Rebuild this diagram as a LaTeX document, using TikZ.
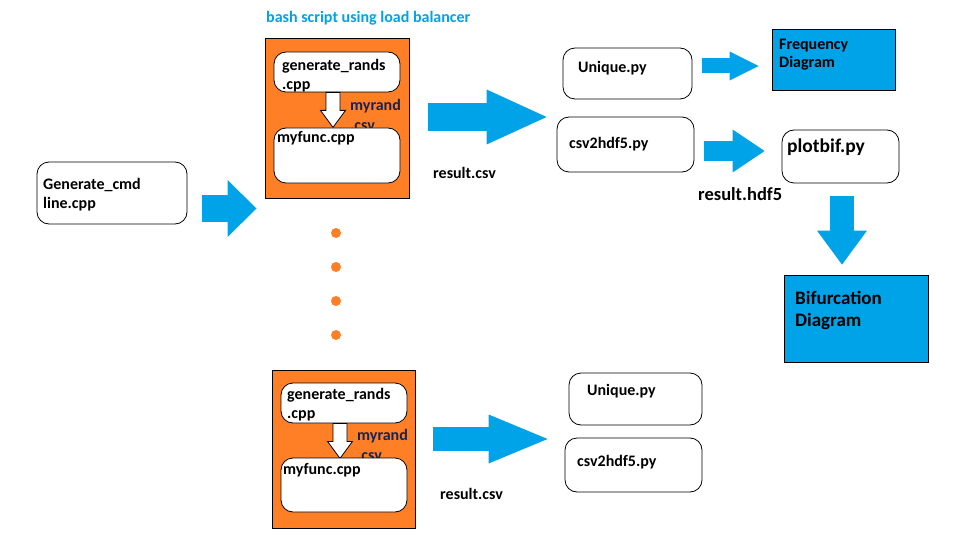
\documentclass[tikz,border=0pt]{standalone}
\usepackage{fontspec}
\setmainfont{Carlito}
\usetikzlibrary{arrows.meta}
\definecolor{paintorange}{RGB}{255,127,39}
\definecolor{paintblue}{RGB}{0,162,232}
\definecolor{navytext}{RGB}{25,35,80}

\begin{document}
\begin{tikzpicture}[x=1pt, y=-1pt,
    txt/.style={inner sep=0pt, align=left, anchor=west, font=\bfseries\fontsize{16}{19}\selectfont},
    bigtxt/.style={txt, font=\bfseries\fontsize{19}{22}\selectfont},
    randtxt/.style={txt, text=navytext, font=\bfseries\fontsize{16}{20}\selectfont},
    rbox/.style={rectangle, draw, fill=white, rounded corners=12pt, line width=0.8pt},
    batch/.style={rectangle, draw, fill=paintorange, line width=1pt},
    result/.style={rectangle, draw, fill=paintblue, line width=0.8pt},
    blk/.style n args={3}{draw=paintblue, line width=#1, -{Triangle[length=#2, width=#3, line width=0pt]}},
    whitearr/.pic={\draw[fill=white, line width=0.8pt] (-11,0) -- (3,0) -- (3,18) -- (8.5,18) -- (-4,35) -- (-16.5,18) -- (-11,18) -- cycle;}
]
    \useasboundingbox (0,0) rectangle (960,540);

    \node[txt, text=paintblue] (title) at (266,18) {bash script using load balancer};

    % upper batch
    \node[batch, minimum width=144pt, minimum height=159pt] (batch1) at (337,118.5) {};
    \node[rbox, minimum width=126pt, minimum height=40pt] (gen1) at (337,72) {};
    \node[txt] (gen1-t) at (282,76) {generate\_rands\\.cpp};
    \node[randtxt] (rand1) at (350,115) {myrand\\.csv};
    \pic at (gen1.south) {whitearr};
    \node[rbox, minimum width=126pt, minimum height=55pt] (func1) at (337,155.5) {};
    \node[txt] (func1-t) at (277,138) {myfunc.cpp};

    % lower batch
    \node[batch, minimum width=143pt, minimum height=158pt] (batch2) at (343.5,449) {};
    \node[rbox, minimum width=126pt, minimum height=40pt] (gen2) at (344,403) {};
    \node[txt] (gen2-t) at (287,404.5) {generate\_rands\\.cpp};
    \node[randtxt] (rand2) at (357,445) {myrand\\.csv};
    \pic at (gen2.south) {whitearr};
    \node[rbox, minimum width=126pt, minimum height=54pt] (func2) at (344,485) {};
    \node[txt] (func2-t) at (283,470) {myfunc.cpp};

    \foreach \y in {233,267,301,335}
        \fill[paintorange] (336,\y) circle (5pt);

    \node[rbox, minimum width=150pt, minimum height=62pt] (cmd) at (112,193) {};
    \node[txt] (cmd-t) at (43,194.5) {Generate\_cmd\\line.cpp};

    \node[rbox, minimum width=129pt, minimum height=51pt] (uniq1) at (627.5,73.5) {};
    \node[txt] (uniq1-t) at (578,68) {Unique.py};
    \node[rbox, minimum width=137pt, minimum height=55pt] (conv1) at (625.5,144.5) {};
    \node[txt] (conv1-t) at (569,144) {csv2hdf5.py};
    \node[rbox, minimum width=133pt, minimum height=52pt] (uniq2) at (635.5,399) {};
    \node[txt] (uniq2-t) at (587,391) {Unique.py};
    \node[rbox, minimum width=137pt, minimum height=54pt] (conv2) at (633.5,465) {};
    \node[txt] (conv2-t) at (577,462) {csv2hdf5.py};

    \node[result, minimum width=123pt, minimum height=61pt] (freq) at (833.5,60) {};
    \node[txt, font=\bfseries\fontsize{16}{18}\selectfont] (freq-t) at (779,55) {Frequency\\Diagram};
    \node[rbox, minimum width=117pt, minimum height=53pt] (plot) at (840.5,156.5) {};
    \node[bigtxt, font=\bfseries\fontsize{19.5}{22}\selectfont] (plot-t) at (787,147) {plotbif.py};
    \node[result, minimum width=144pt, minimum height=87pt] (bif) at (856,318.5) {};
    \node[bigtxt] (bif-t) at (795,310) {Bifurcation\\Diagram};

    \node[txt] (res1) at (433,173) {result.csv};
    \node[txt] (res2) at (440,494) {result.csv};
    \node[bigtxt, font=\bfseries\fontsize{18.5}{22}\selectfont] (hdf) at (698,194) {result.hdf5};

    % block arrows
    \draw[blk={27pt}{29pt}{57pt}, shorten <=15pt, shorten >=8pt] ([yshift=-15.5pt]cmd.east) -- ([yshift=-15.5pt]cmd.east -| batch1.west);
    \draw[blk={28pt}{60pt}{55pt}, shorten <=18pt, shorten >=10pt] ([yshift=1.5pt]batch1.east) -- ([yshift=1.5pt]batch1.east -| conv1.west);
    \draw[blk={24pt}{59pt}{49pt}, shorten <=17pt, shorten >=17pt] ([yshift=10pt]batch2.east) -- ([yshift=10pt]batch2.east -| conv2.west);
    \draw[blk={15pt}{29pt}{29pt}, shorten <=10pt, shorten >=13pt] ([yshift=7.5pt]uniq1.east) -- ([yshift=7.5pt]uniq1.east -| freq.west);
    \draw[blk={20pt}{32pt}{43pt}, shorten <=10pt, shorten >=17pt] ([yshift=-6.5pt]conv1.east) -- ([yshift=-6.5pt]conv1.east -| plot.west);
    \draw[blk={24pt}{34pt}{50pt}, shorten <=13pt, shorten >=10pt] ([xshift=1.5pt]plot.south) -- ([xshift=1.5pt]plot.south |- bif.north);
\end{tikzpicture}
\end{document}
